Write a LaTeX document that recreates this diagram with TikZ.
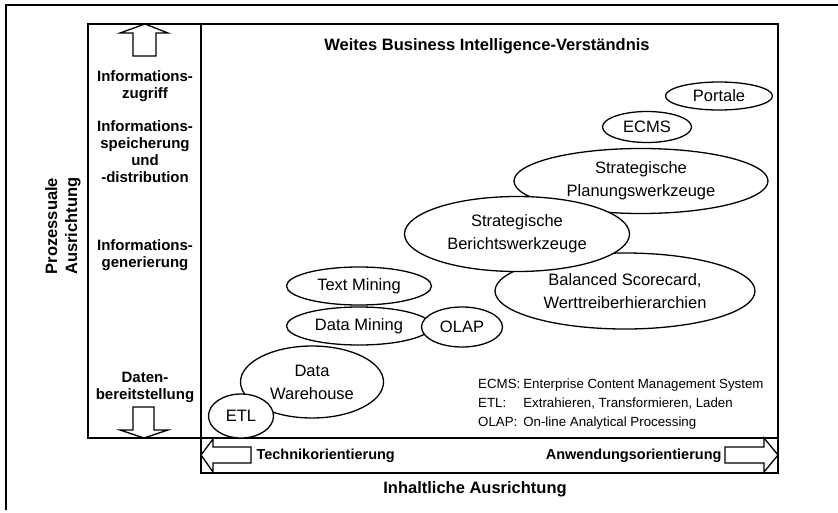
\documentclass[tikz,border=0pt]{standalone}
\usepackage{fontspec}
\setmainfont{Liberation Sans}
\usetikzlibrary{shapes.geometric}

\begin{document}
\begin{tikzpicture}[x=1pt,y=-1pt,
  feld/.style={draw,ellipse,fill=white,line width=1.3pt,inner sep=0pt,
    align=center,font=\fontsize{16.5}{23}\selectfont},
  stufe/.style={align=center,font=\bfseries\fontsize{15}{17}\selectfont},
  kopf/.style={font=\bfseries\fontsize{16.5}{20}\selectfont},
  pfeil/.style={draw,line width=1.3pt,fill=white}]
  \useasboundingbox (0,0) rectangle (838,512);

  % rahmen
  \draw[line width=1.3pt] (6,510) -- (6,5) -- (838,5);
  \draw[line width=1.6pt]
  (88,24) rectangle (201,438)
  (201,24) rectangle (778,438)
  (201,438) rectangle (778,473);

  % pfeile
  \draw[pfeil] (133,56) -- (133,33) -- (120,33) -- (145,24) -- (168,33)
        -- (156,33) -- (156,56) -- cycle;
  \draw[pfeil] (133,407) -- (133,430) -- (120,430) -- (144,438) -- (168,430)
        -- (154,430) -- (154,407) -- cycle;
  \draw[pfeil] (251,447) -- (213,447) -- (213,439) -- (201,455) -- (213,472)
        -- (213,463) -- (251,463) -- cycle;
  \draw[pfeil] (725,447) -- (764,447) -- (764,438) -- (778,455) -- (764,472)
        -- (764,463) -- (725,463) -- cycle;

  % achsen
  \node[kopf] (titel) at (487,46) {Weites Business Intelligence-Verständnis};
  \node[kopf] (inhalt) at (475,489) {Inhaltliche Ausrichtung};
  \node[kopf,rotate=90,align=center] (prozess) at (63,226)
        {Prozessuale\\Ausrichtung};
  \node[stufe,font=\bfseries\fontsize{14.5}{17}\selectfont,anchor=west]
        (technik) at (253,456) {Technikorientierung};
  \node[stufe,font=\bfseries\fontsize{14.5}{17}\selectfont,anchor=east]
        (anwendung) at (725,456) {Anwendungsorientierung};

  % stufen
  \node[stufe] (zugriff) at (145,86) {Informations-\\zugriff};
  \node[stufe] (speicher) at (145,152)
        {Informations-\\speicherung\\und\\-distribution};
  \node[stufe] (generierung) at (145,255) {Informations-\\generierung};
  \node[stufe] (daten) at (145,387) {Daten-\\bereitstellung};

  % werkzeuge
  \node[feld,minimum width=254,minimum height=65] (planung) at (641,181)
        {Strategische\\Planungswerkzeuge};
  \node[feld,minimum width=260,minimum height=76] (bsc) at (625,291)
        {Balanced Scorecard,\\Werttreiberhierarchien};
  \node[feld,minimum width=225,minimum height=75] (bericht) at (517,234)
        {Strategische\\Berichtswerkzeuge};
  \node[feld,minimum width=89,minimum height=31] (ecms) at (647,127) {ECMS};
  \node[feld,minimum width=107,minimum height=28] (portale) at (719,96) {Portale};
  \node[feld,minimum width=145,minimum height=38] (dm) at (359,326) {Data Mining};
  \node[feld,minimum width=145,minimum height=38] (tm) at (359,286) {Text Mining};
  \node[feld,minimum width=81,minimum height=40] (olap) at (462,327) {OLAP};
  \node[feld,minimum width=143,minimum height=72] (dwh) at (312,382)
        {Data\\Warehouse};
  \node[feld,minimum width=65,minimum height=44] (etl) at (241,416) {ETL};

  % legende
  \node[anchor=west,inner sep=0pt,font=\fontsize{13.3}{19}\selectfont]
        (legende) at (478,404)
        {\begin{tabular}{@{}l@{\hspace{3pt}}l@{}}
          ECMS: & Enterprise Content Management System\\
          ETL: & Extrahieren, Transformieren, Laden\\
          OLAP: & On-line Analytical Processing
        \end{tabular}};
\end{tikzpicture}
\end{document}
